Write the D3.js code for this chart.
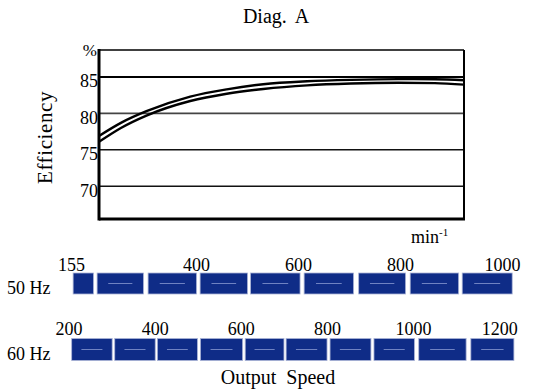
<!DOCTYPE html>
<html><head><meta charset="utf-8">
<script src="https://cdn.jsdelivr.net/npm/d3@7"></script>
<style>body{margin:0;background:#fff}svg{display:block}</style>
</head><body>
<svg id="c" width="542" height="390"></svg>
<script>
// ---- data ----
const yTicks = [70, 75, 80, 85];
const curveX = [0, 6, 13, 25, 35, 45, 57, 69, 82, 92, 100];
const curveUpper = [76.9, 78.7, 80.3, 82.3, 83.3, 84.0, 84.4, 84.6, 84.7, 84.68, 84.55];
const curveLower = [76.1, 78.0, 79.7, 81.7, 82.7, 83.35, 83.85, 84.1, 84.2, 84.15, 83.95];
const ticks50 = [155, 400, 600, 800, 1000];
const barStart50 = [158, 205, 305, 407, 506, 611, 718, 819, 921];
const barEnd50 = [198, 296, 400, 500, 603, 708, 810, 914, 1019];
const ticks60 = [200, 400, 600, 800, 1000, 1200];
const barStart60 = [206, 306, 405, 505, 609, 704, 806, 908, 1012, 1133];
const barEnd60 = [300, 400, 498, 603, 699, 799, 901, 1002, 1122, 1233];

const FONT = "Liberation Serif";
const svg = d3.select("#c");
const L = 99, R = 464, T = 50, B = 219;
const x = d3.scaleLinear().domain([0, 100]).range([L, R]);
const y = d3.scaleLinear().domain([65.5, 88.7]).range([B, T]);

function txt(sel) { return sel.attr("font-family", FONT).attr("fill", "#000"); }

txt(svg.append("text")).attr("x", 276).attr("y", 23).attr("text-anchor", "middle")
  .attr("font-size", 20).attr("word-spacing", 4).text("Diag. A");

// gridlines
const gstyle = {85: ["#000", 2], 80: ["#444", 1.6], 75: ["#111", 1.5], 70: ["#111", 1.5]};
svg.append("g").selectAll("line").data(yTicks).join("line")
  .attr("x1", L).attr("x2", R).attr("y1", d => y(d)).attr("y2", d => y(d))
  .attr("stroke", d => gstyle[d][0]).attr("stroke-width", d => gstyle[d][1]);

// y axis labels
const yAxis = d3.axisLeft(y).tickValues(yTicks).tickSize(0).tickPadding(2);
const ga = svg.append("g").attr("transform", `translate(${L},0)`).call(yAxis);
ga.attr("font-family", FONT).attr("font-size", 18);
ga.select(".domain").remove();
ga.selectAll("text").attr("dy", "0.55em").attr("x", -1).attr("fill", "#000");

txt(svg.append("text")).attr("x", 97).attr("y", 56).attr("text-anchor", "end").attr("font-size", 17).text("%");
txt(svg.append("text")).attr("transform", `translate(52,${(T + B) / 2 + 3}) rotate(-90)`).attr("text-anchor", "middle")
  .attr("font-size", 21).attr("letter-spacing", 0.6).text("Efficiency");
const mt = txt(svg.append("text")).attr("x", 411).attr("y", 243).attr("font-size", 18);
mt.append("tspan").text("min");
mt.append("tspan").attr("dy", -7).attr("font-size", 11).text("-1");

// frame
svg.append("line").attr("x1", L).attr("x2", R).attr("y1", T).attr("y2", T).attr("stroke", "#000").attr("stroke-width", 1.5);
svg.append("line").attr("x1", R).attr("x2", R).attr("y1", T).attr("y2", B).attr("stroke", "#000").attr("stroke-width", 2);
svg.append("line").attr("x1", L).attr("x2", L).attr("y1", T - 1).attr("y2", B + 1.5).attr("stroke", "#000").attr("stroke-width", 3);
svg.append("line").attr("x1", L).attr("x2", R + 1).attr("y1", B).attr("y2", B).attr("stroke", "#000").attr("stroke-width", 3);

// curves
const line = d3.line().x(d => x(d[0])).y(d => y(d[1])).curve(d3.curveMonotoneX);
[curveUpper, curveLower].forEach(vals => {
  svg.append("path").datum(curveX.map((v, i) => [v, vals[i]])).attr("d", line)
    .attr("fill", "none").attr("stroke", "#000").attr("stroke-width", 2.4);
});

// speed bars
function speedRow(ticks, starts, ends, domain, range, barTop, barH, tickY, label, labelY, noMid) {
  const s = d3.scaleLinear().domain(domain).range(range);
  txt(svg.append("g").selectAll("text").data(ticks).join("text"))
    .attr("x", d => s(d)).attr("y", tickY).attr("text-anchor", "middle").attr("font-size", 18).text(d => d);
  const g = svg.append("g");
  starts.forEach((st, i) => {
    const x0 = s(st), x1 = s(ends[i]);
    g.append("rect").attr("x", x0).attr("y", barTop).attr("width", x1 - x0).attr("height", barH)
      .attr("fill", "#0f2c87").attr("stroke", "#aab3d6").attr("stroke-width", 0.8);
    if (!(noMid && i === 0)) {
      g.append("line").attr("x1", x0 + (x1 - x0) * 0.24).attr("x2", x0 + (x1 - x0) * 0.76)
        .attr("y1", barTop + barH / 2).attr("y2", barTop + barH / 2)
        .attr("stroke", "#6f82c2").attr("stroke-width", 1);
    }
  });
  txt(svg.append("text")).attr("x", 7).attr("y", labelY).attr("font-size", 18).text(label);
}
speedRow(ticks50, barStart50, barEnd50, [155, 1000], [71.6, 502.5], 273, 21, 271, "50 Hz", 294, true);
speedRow(ticks60, barStart60, barEnd60, [200, 1200], [69.1, 499.7], 338.5, 22, 335, "60 Hz", 360, false);

txt(svg.append("text")).attr("x", 278).attr("y", 384).attr("text-anchor", "middle")
  .attr("font-size", 20).attr("word-spacing", 5).text("Output Speed");
</script>
</body></html>
